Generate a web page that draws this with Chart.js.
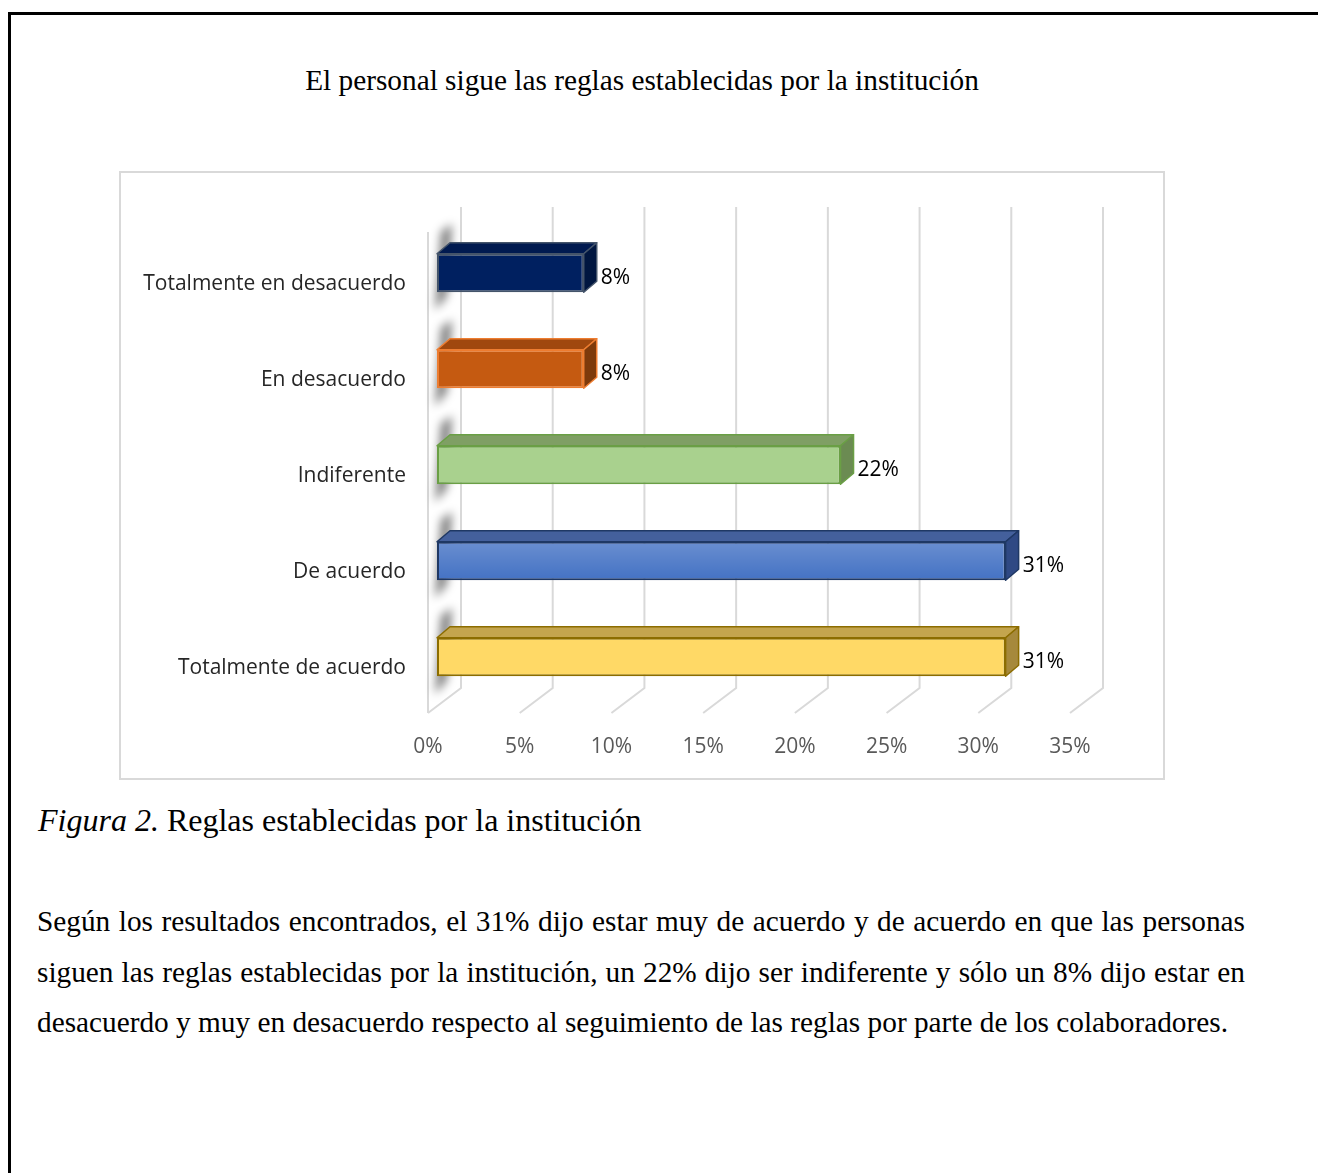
<!DOCTYPE html>
<html lang="es">
<head>
<meta charset="utf-8">
<title>Reglas establecidas por la institución</title>
<script src="https://cdn.jsdelivr.net/npm/chart.js@4.4.1/dist/chart.umd.min.js"></script>
<style>
  body { margin: 0; background: #fff; width: 1318px; height: 1173px; position: relative; overflow: hidden;
         font-family: 'Liberation Serif', 'Times New Roman', serif; color: #000; }
  .marco { position: absolute; left: 8px; top: 12px; right: -10px; bottom: -10px;
           border-left: 3px solid #000; border-top: 3px solid #000; }
  .titulo { position: absolute; left: 0; width: 1284px; top: 63px; text-align: center; font-size: 29.3px; line-height: 34px; }
  .caja { position: absolute; left: 119px; top: 171px; width: 1046px; height: 609px;
          box-sizing: border-box; border: 2px solid #d9d9d9; }
  .caja canvas { display: block; }
  .pie { position: absolute; left: 38px; top: 801px; font-size: 32px; line-height: 38px; }
  .texto { position: absolute; left: 37px; top: 896px; width: 1208px; font-size: 29.3px; line-height: 50.5px; }
  .just { text-align: justify; text-align-last: justify; }
</style>
</head>
<body>
<div class="marco"></div>
<div class="titulo">El personal sigue las reglas establecidas por la institución</div>
<div class="caja"><canvas id="grafico" width="1042" height="605"></canvas></div>
<div class="pie"><i>Figura 2.</i> Reglas establecidas por la institución</div>
<div class="texto">
  <div class="just">Según los resultados encontrados, el 31% dijo estar muy de acuerdo y de acuerdo en que las personas</div>
  <div class="just">siguen las reglas establecidas por la institución, un 22% dijo ser indiferente y sólo un 8% dijo estar en</div>
  <div>desacuerdo y muy en desacuerdo respecto al seguimiento de las reglas por parte de los colaboradores.</div>
</div>

<script>
// datos de la encuesta
const categorias = ['Totalmente en desacuerdo', 'En desacuerdo', 'Indiferente', 'De acuerdo', 'Totalmente de acuerdo'];
const porcentajes = [8, 8, 22, 31, 31];
const marcasX = [0, 5, 10, 15, 20, 25, 30, 35];

// colores de cada barra: frente, borde, cara superior y cara lateral
const colorFrente = ['#002060', '#c55a11', '#a9d18e', '#4472c4', '#ffd966'];
const colorBorde  = ['#44546a', '#ed7d31', '#6a9f45', '#1f3864', '#8c6d00'];
const colorTapa   = ['#001a50', '#a0480e', '#7f9f64', '#44609c', '#c4a54e'];
const colorLado   = ['#001640', '#7e3a0b', '#6b8b52', '#2f4984', '#a6893c'];
const brillo      = [0, 0, 0, 0.2, 0];

const FUENTE = "'Open Sans', sans-serif";
const TAM = 21;
const GRIS = '#d9d9d9';
const PROF_X = 13, PROF_Y = -11;   // fondo de las barras
const PARED_X = 33, PARED_Y = -25; // fondo de la pared

const escena3d = {
  id: 'escena3d',
  beforeDatasetsDraw(chart) {
    const { ctx, chartArea: a, scales: { x } } = chart;
    const yFrente = a.bottom + 8;
    ctx.save();
    ctx.strokeStyle = GRIS;
    ctx.lineWidth = 2;
    // pared del fondo y piso
    marcasX.forEach(v => {
      const xf = x.getPixelForValue(v) - 9;
      ctx.beginPath();
      ctx.moveTo(xf + PARED_X, a.top - 18);
      ctx.lineTo(xf + PARED_X, yFrente + PARED_Y);
      ctx.lineTo(xf, yFrente);
      ctx.stroke();
    });
    // pared izquierda
    const x0 = x.getPixelForValue(0) - 9;
    ctx.beginPath();
    ctx.moveTo(x0, a.top + 7);
    ctx.lineTo(x0, yFrente);
    ctx.stroke();

    // sombra de cada barra sobre la pared
    ctx.filter = 'blur(5px)';
    ctx.fillStyle = 'rgba(0,0,0,0.5)';
    chart.getDatasetMeta(0).data.forEach(b => {
      const arriba = b.y - b.height / 2, abajo = b.y + b.height / 2, xb = b.base;
      ctx.beginPath();
      ctx.moveTo(xb + 4, arriba - 22);
      ctx.lineTo(xb + 15, arriba - 30);
      ctx.lineTo(xb + 10, abajo + 4);
      ctx.lineTo(xb - 2, abajo + 18);
      ctx.closePath();
      ctx.fill();
    });
    ctx.restore();
  },
  afterDatasetsDraw(chart) {
    const { ctx, chartArea: a, scales: { x } } = chart;
    ctx.save();
    chart.getDatasetMeta(0).data.forEach((b, i) => {
      const arriba = b.y - b.height / 2, abajo = b.y + b.height / 2;
      const ini = b.base, fin = b.x;
      ctx.lineWidth = 1.5;
      ctx.strokeStyle = colorBorde[i];
      ctx.lineJoin = 'round';
      // cara superior
      ctx.beginPath();
      ctx.moveTo(ini, arriba);
      ctx.lineTo(ini + PROF_X, arriba + PROF_Y);
      ctx.lineTo(fin + PROF_X, arriba + PROF_Y);
      ctx.lineTo(fin, arriba);
      ctx.closePath();
      ctx.fillStyle = colorTapa[i];
      ctx.fill();
      ctx.stroke();
      // cara lateral
      ctx.beginPath();
      ctx.moveTo(fin, arriba);
      ctx.lineTo(fin + PROF_X, arriba + PROF_Y);
      ctx.lineTo(fin + PROF_X, abajo + PROF_Y);
      ctx.lineTo(fin, abajo);
      ctx.closePath();
      ctx.fillStyle = colorLado[i];
      ctx.fill();
      ctx.stroke();
      // brillo del frente
      if (brillo[i] > 0) {
        const g = ctx.createLinearGradient(0, arriba, 0, abajo);
        g.addColorStop(0, `rgba(255,255,255,${brillo[i]})`);
        g.addColorStop(1, 'rgba(255,255,255,0)');
        ctx.fillStyle = g;
        ctx.fillRect(ini + 2, arriba + 2, fin - ini - 4, abajo - arriba - 4);
      }
      // etiqueta de valor
      ctx.fillStyle = '#000';
      ctx.font = `${TAM}px ${FUENTE}`;
      ctx.textAlign = 'left';
      ctx.textBaseline = 'middle';
      ctx.fillText(porcentajes[i] + '%', fin + 17, b.y + 5);
    });
    // etiquetas del eje horizontal
    ctx.fillStyle = '#595959';
    ctx.font = `${TAM}px ${FUENTE}`;
    ctx.textAlign = 'center';
    ctx.textBaseline = 'middle';
    marcasX.forEach(v => ctx.fillText(v + '%', x.getPixelForValue(v) - 9, a.bottom + 42));
    ctx.restore();
  }
};

new Chart(document.getElementById('grafico'), {
  type: 'bar',
  data: {
    labels: categorias,
    datasets: [{
      data: porcentajes,
      backgroundColor: colorFrente,
      borderColor: colorBorde,
      borderWidth: 2,
      borderSkipped: false,
      barPercentage: 0.4,
      categoryPercentage: 1
    }]
  },
  options: {
    indexAxis: 'y',
    responsive: false,
    animation: false,
    layout: { padding: { left: 0, right: 84, top: 52, bottom: 73 } },
    plugins: { legend: { display: false }, tooltip: { enabled: false } },
    scales: {
      x: { display: false, min: 0, max: 35 },
      y: {
        grid: { display: false, drawTicks: false },
        border: { display: false },
        ticks: { padding: 31, labelOffset: 11, color: '#262626', font: { family: FUENTE, size: TAM } },
        afterFit(s) { s.width = 316; }
      }
    }
  },
  plugins: [escena3d]
});
</script>
</body>
</html>
